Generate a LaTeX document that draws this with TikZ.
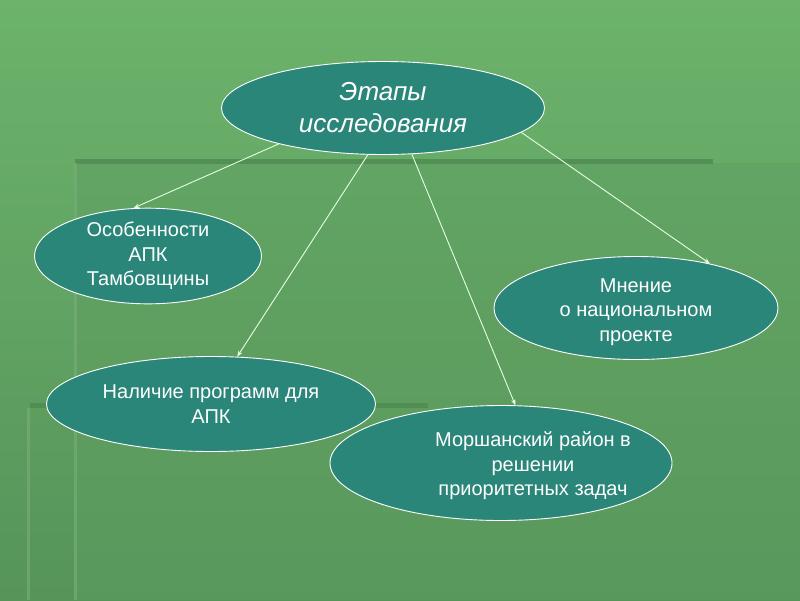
\documentclass[tikz,border=0pt]{standalone}
\usepackage{fontspec}
\setmainfont{Liberation Sans}
\usepackage{xcolor}
\usepackage{tikz}
\usetikzlibrary{arrows.meta,shapes.geometric}
\definecolor{bgtop}{HTML}{6CB36B}
\definecolor{bgbot}{HTML}{56945A}
\definecolor{panelc}{HTML}{5E9E60}
\definecolor{barc}{HTML}{4E8A52}
\definecolor{ruleg}{HTML}{76AD75}
\definecolor{stagefill}{HTML}{2A8678}
\tikzset{
  stage/.style={ellipse,draw=white,line width=0.9pt,fill=stagefill,inner sep=0pt,
    text=white,align=center,font=\fontsize{20}{24.5}\selectfont},
  stagetext/.style={inner sep=0pt,text=white,align=center,font=\fontsize{20}{24.5}\selectfont},
  title/.style={stage,font=\fontsize{26}{32}\selectfont\itshape},
  link/.style={draw=white!90!green,line width=0.9pt,-{Stealth[length=6pt,width=4.5pt]}},
}

\begin{document}
\begin{tikzpicture}[x=1pt,y=-1pt]
  % backdrop
  \shade[top color=bgtop,bottom color=bgbot] (0,0) rectangle (800,600);
  \fill[panelc,opacity=0.45] (75,163) rectangle (800,600);
  \fill[barc,opacity=0.8] (75,159) rectangle (713,164);
  \fill[barc,opacity=0.8] (30,403) rectangle (428,408);
  \fill[ruleg,opacity=0.7] (74,163) rectangle (77,600);
  \fill[ruleg,opacity=0.7] (27,408) rectangle (30,600);
  \useasboundingbox (0,0) rectangle (800,600);

  \node[title,minimum width=323pt,minimum height=93pt](top) at (383,108){Этапы\\исследования};
  \node[stage,minimum width=227pt,minimum height=68pt](apk) at (148,256){Особенности\\АПК\\Тамбовщины};
  \node[stage,minimum width=284pt,minimum height=103pt](opin) at (636,308){};
  \node[stagetext](opintxt) at (636,312){Мнение\\о национальном\\проекте};
  \node[stage,minimum width=329pt,minimum height=95pt](prog) at (211,404){Наличие программ для\\АПК};
  \node[stage,minimum width=342pt,minimum height=115pt](mor) at (501,463){};
  \node[stagetext](mortxt) at (533,466){Моршанский район в\\решении\\приоритетных задач};

  \draw[link] (top.199) -- (apk.107);
  \draw[link] (top.252) -- (prog.61);
  \draw[link] (top.302) -- (mor.76);
  \draw[link] (top.350) -- (opin.31);
\end{tikzpicture}
\end{document}
